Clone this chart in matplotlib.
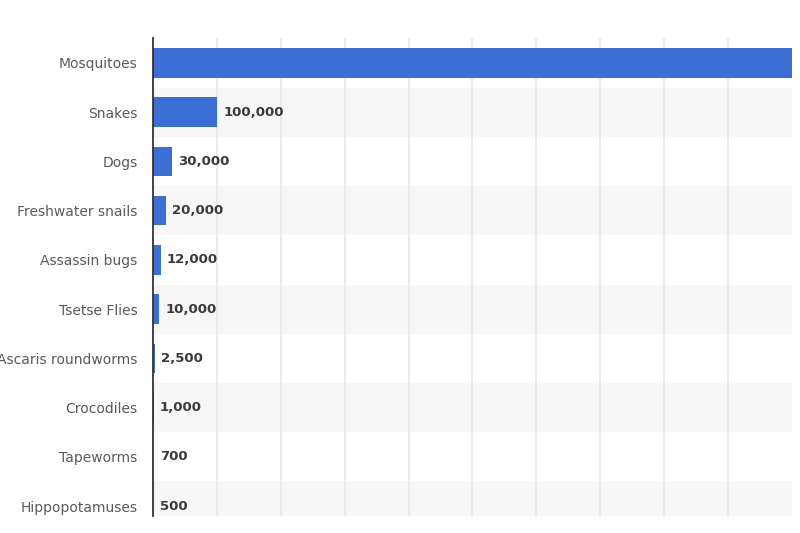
import matplotlib.pyplot as plt

# data (mosquito bar runs past the right edge)
animals = ["Mosquitoes", "Snakes", "Dogs", "Freshwater snails", "Assassin bugs",
           "Tsetse Flies", "Ascaris roundworms", "Crocodiles", "Tapeworms", "Hippopotamuses"]
deaths = [1000000, 100000, 30000, 20000, 12000, 10000, 2500, 1000, 700, 500]
value_labels = ["", "100,000", "30,000", "20,000", "12,000", "10,000", "2,500", "1,000", "700", "500"]

barColor = "#3b6fd6"

fig = plt.figure(figsize=(8, 5.33), dpi=100)
ax = fig.add_axes([0.19125, 0.032, 0.79875, 0.896])

# alternating row bands
for i in range(len(animals)):
    if i % 2 == 1:
        ax.axhspan(i - 0.5, i + 0.5, color="#f7f7f7", zorder=0, lw=0)

ax.barh(range(len(animals)), deaths, height=0.6, color=barColor, zorder=3)

for i, (v, lab) in enumerate(zip(deaths, value_labels)):
    if lab:
        ax.annotate(lab, xy=(v, i), xytext=(4.5, 0), textcoords="offset points",
                    ha="left", va="center", fontsize=9.5, fontweight="bold",
                    color="#3a3a3a", zorder=4)

ax.set_xlim(0, 1000000)
ax.set_ylim(9.2, -0.5)
ax.set_xticks(range(100000, 1000000, 100000))
ax.xaxis.grid(True, color="#e8e8e8", lw=1.2, zorder=1)
ax.tick_params(axis="x", bottom=False, labelbottom=False)
ax.set_yticks(range(len(animals)))
ax.set_yticklabels(animals, fontsize=10, color="#5a5a5a")
ax.tick_params(axis="y", length=0, pad=11)

for s in ["top", "right", "bottom"]:
    ax.spines[s].set_visible(False)
ax.spines["left"].set_color("#333333")
ax.spines["left"].set_linewidth(1.3)
ax.spines["left"].set_zorder(5)

fig.savefig("out.png", dpi=100)
